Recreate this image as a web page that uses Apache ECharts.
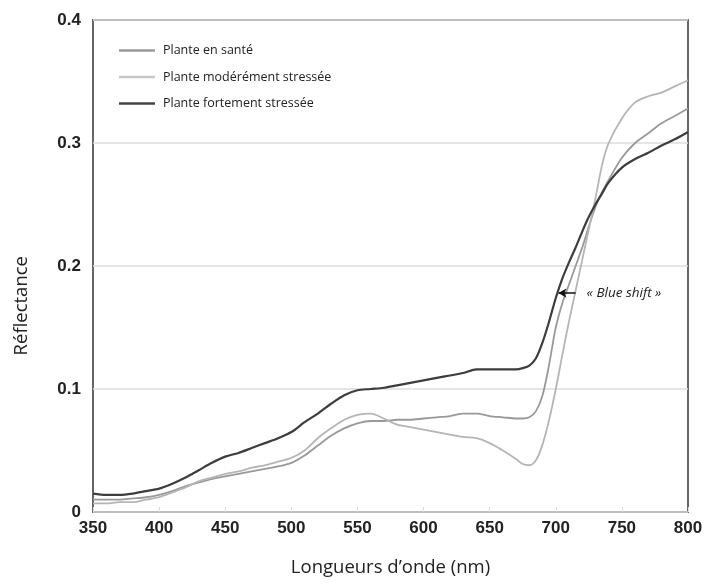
<!DOCTYPE html>
<html>
<head>
<meta charset="utf-8">
<script src="https://cdn.jsdelivr.net/npm/echarts@6/dist/echarts.min.js"></script>
<style>
  html, body { margin: 0; padding: 0; background: #fff; }
  #chart { width: 708px; height: 584px; }
</style>
</head>
<body>
<div id="chart"></div>
<script>
// longueurs d'onde (nm)
var wavelengths = [350, 360, 370, 380, 390, 400, 410, 420, 430, 440, 450, 460, 470, 480, 490,
  500, 510, 520, 530, 540, 550, 560, 570, 580, 590, 600, 610, 620, 630, 640, 650, 660, 670,
  675, 680, 685, 690, 695, 700, 705, 710, 715, 720, 725, 730, 735, 740,
  750, 760, 770, 780, 790, 800];

var sante = [0.010, 0.010, 0.010, 0.011, 0.012, 0.014, 0.017, 0.021, 0.024, 0.027, 0.029, 0.031, 0.033, 0.035, 0.037,
  0.040, 0.046, 0.054, 0.062, 0.068, 0.072, 0.074, 0.074, 0.075, 0.075, 0.076, 0.077, 0.078, 0.080, 0.080, 0.078, 0.077, 0.076,
  0.076, 0.077, 0.082, 0.095, 0.120, 0.150, 0.170, 0.185, 0.200, 0.215, 0.232, 0.248, 0.260, 0.270,
  0.288, 0.300, 0.308, 0.316, 0.322, 0.328];

var moderee = [0.007, 0.007, 0.008, 0.008, 0.010, 0.012, 0.016, 0.020, 0.025, 0.028, 0.031, 0.033, 0.036, 0.038, 0.041,
  0.044, 0.050, 0.060, 0.068, 0.075, 0.079, 0.080, 0.076, 0.071, 0.069, 0.067, 0.065, 0.063, 0.061, 0.060, 0.056, 0.050, 0.043,
  0.039, 0.038, 0.042, 0.055, 0.075, 0.100, 0.128, 0.155, 0.180, 0.205, 0.230, 0.255, 0.282, 0.300,
  0.320, 0.333, 0.338, 0.341, 0.346, 0.351];

var forte = [0.015, 0.014, 0.014, 0.015, 0.017, 0.019, 0.023, 0.028, 0.034, 0.040, 0.045, 0.048, 0.052, 0.056, 0.060,
  0.065, 0.073, 0.080, 0.088, 0.095, 0.099, 0.100, 0.101, 0.103, 0.105, 0.107, 0.109, 0.111, 0.113, 0.116, 0.116, 0.116, 0.116,
  0.117, 0.119, 0.125, 0.138, 0.155, 0.174, 0.190, 0.203, 0.215, 0.228, 0.240, 0.250, 0.259, 0.268,
  0.280, 0.287, 0.292, 0.298, 0.303, 0.309];

var yTicks = [0, 0.1, 0.2, 0.3, 0.4];

function pairs(vals) {
  return wavelengths.map(function (w, i) { return [w, vals[i]]; });
}

var myChart = echarts.init(document.getElementById('chart'));
myChart.setOption({
  animation: false,
  grid: { left: 93, right: 20, top: 20, bottom: 72, show: true, borderColor: '#666', borderWidth: 2 },
  legend: {
    orient: 'vertical',
    left: 114, top: 39,
    icon: 'rect',
    itemWidth: 36, itemHeight: 2.5, itemGap: 13.5,
    textStyle: { fontFamily: 'Open Sans', fontSize: 12.5, color: '#222', padding: [0, 0, 0, 3] },
    data: ['Plante en santé', 'Plante modérément stressée', 'Plante fortement stressée']
  },
  graphic: [{
    type: 'text', left: 12, top: 256, rotation: Math.PI / 2,
    style: { text: 'Réflectance', fontFamily: 'Open Sans', fontSize: 18.5, fill: '#222' }
  }],
  xAxis: {
    type: 'value', min: 350, max: 800, interval: 50,
    name: 'Longueurs d’onde (nm)', nameLocation: 'middle', nameGap: 46,
    nameTextStyle: { fontFamily: 'Open Sans', fontSize: 18.5, color: '#222' },
    axisLine: { show: false },
    axisTick: { show: true, inside: true, length: 5, lineStyle: { color: '#ddd' } },
    axisLabel: { fontFamily: 'Liberation Sans', fontWeight: 'bold', fontSize: 17, color: '#222', margin: 8 },
    splitLine: { show: false }
  },
  yAxis: {
    type: 'value', min: 0, max: 0.4, interval: 0.1,
    axisLine: { show: false },
    axisTick: { show: false },
    axisLabel: {
      fontFamily: 'Liberation Sans', fontWeight: 'bold', fontSize: 17, color: '#222', margin: 12,
      formatter: function (v) { return yTicks.indexOf(+v.toFixed(1)) >= 0 ? String(+v.toFixed(1)) : ''; }
    },
    splitLine: { lineStyle: { color: '#ddd', width: 1.5 } }
  },
  series: [
    {
      name: 'Plante en santé', type: 'line', symbol: 'none', smooth: 0.3,
      data: pairs(sante),
      lineStyle: { color: '#999', width: 1.8 }, itemStyle: { color: '#999' }
    },
    {
      name: 'Plante modérément stressée', type: 'line', symbol: 'none', smooth: 0.3,
      data: pairs(moderee),
      lineStyle: { color: '#b5b5b5', width: 1.8 }, itemStyle: { color: '#c8c8c8' }
    },
    {
      name: 'Plante fortement stressée', type: 'line', symbol: 'none', smooth: 0.3,
      data: pairs(forte),
      lineStyle: { color: '#3d3d3d', width: 2.2 }, itemStyle: { color: '#444' },
      markLine: {
        silent: true,
        symbolSize: [7, 8],
        lineStyle: { color: '#111', width: 1.5, type: 'solid' },
        label: {
          show: true, position: 'start', distance: 11,
          formatter: '« Blue shift »',
          fontFamily: 'Open Sans', fontStyle: 'italic', fontSize: 13.5, color: '#222'
        },
        data: [[
          { coord: [715, 0.178], symbol: 'none' },
          { coord: [702, 0.178], symbol: 'arrow' }
        ]]
      }
    }
  ]
});
</script>
</body>
</html>
